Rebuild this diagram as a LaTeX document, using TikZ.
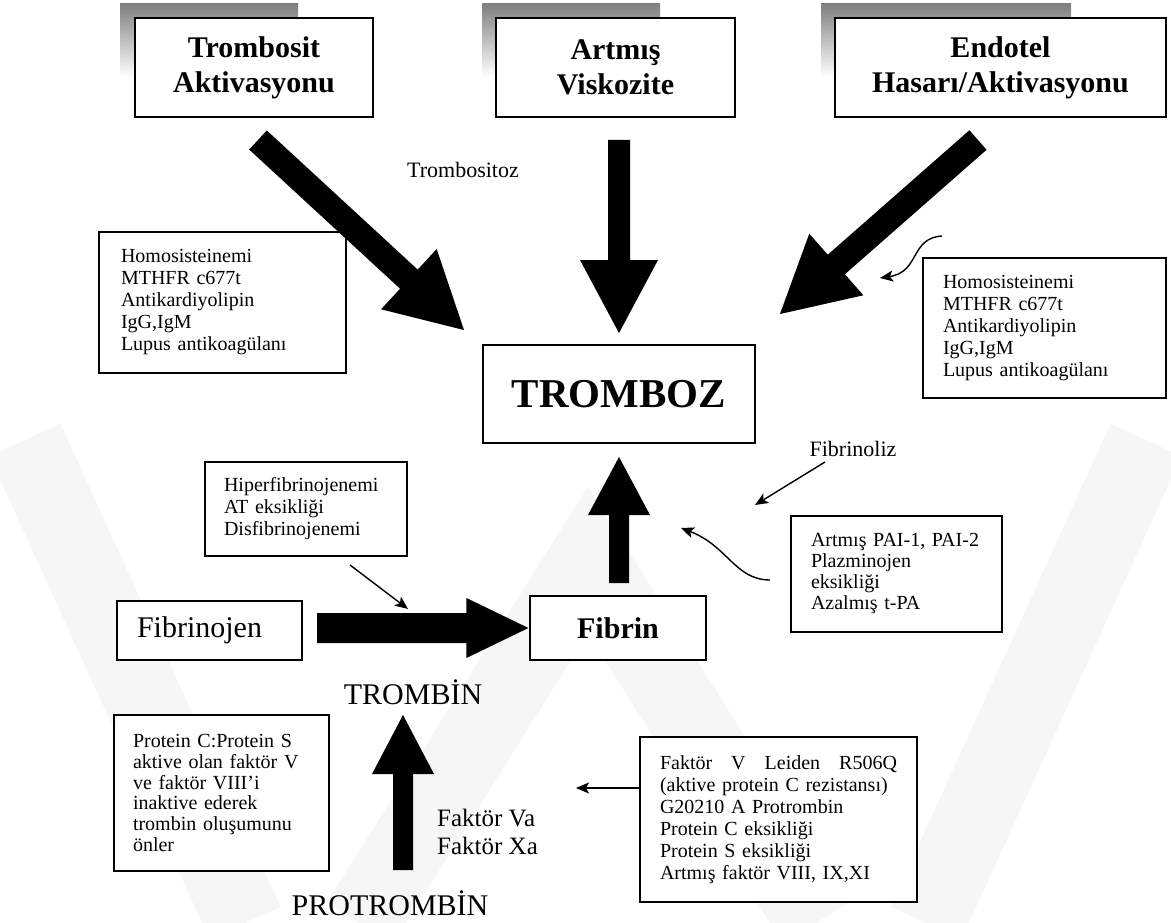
\documentclass[tikz,border=0pt]{standalone}
\usepackage{fontspec}
\setmainfont{Liberation Serif}
\usetikzlibrary{calc,arrows.meta}

\definecolor{shade}{gray}{0.76}
\definecolor{wmark}{gray}{0.965}

% thick block arrow: tail, tip, shaft half width, head half width, head length
\newcommand\blockarrow[5]{%
  \coordinate (ba-b) at ($(#2)!#5!(#1)$);
  \fill[black] ($(#1)!#3!90:(#2)$) -- ($(ba-b)!#3!-90:(#1)$)
    -- ($(ba-b)!#4!-90:(#1)$) -- (#2) -- ($(ba-b)!#4!90:(#1)$)
    -- ($(ba-b)!#3!90:(#1)$) -- ($(#1)!#3!-90:(#2)$) -- cycle;
}

\tikzset{
  box/.style={draw, line width=1.5pt, fill=white, inner sep=0pt},
  titlebox/.style={box, align=center, font=\bfseries\fontsize{30}{35}\selectfont},
  listbox/.style={box, align=left, font=\fontsize{20}{22}\selectfont},
  tag/.style={inner sep=0pt, font=\fontsize{22}{26}\selectfont},
  bigtag/.style={inner sep=0pt, font=\fontsize{30}{34}\selectfont},
  thin/.style={line width=1.4pt, -{Stealth[length=13pt,width=11pt,inset=3pt]}},
}

\begin{document}
\begin{tikzpicture}[x=1pt,y=-1pt]
\useasboundingbox (0,0) rectangle (1171,923);

% faint background emblem
\begin{scope}[wmark, line width=78pt]
  \draw (25,440) -- (245,923);
  \draw (1146,440) -- (926,923);
  \draw[line join=miter] (360,923) -- (588,560) -- (816,923);
\end{scope}

% grey shadows behind the three cause boxes
\fill[shade] (120,4) rectangle (298,77);
\fill[shade] (482,4) rectangle (660,77);
\fill[shade] (821,4) rectangle (1071,77);

% cause boxes
\node[titlebox, minimum width=238pt, minimum height=99pt] (trombosit) at (254,67.5) {Trombosit\\Aktivasyonu};
\node[titlebox, minimum width=239pt, minimum height=99pt] (viskozite) at (615.5,67.5) {Artmış\\Viskozite};
\node[titlebox, minimum width=331pt, minimum height=99pt] (endotel) at (1000.5,67.5) {Endotel\\Hasarı/Aktivasyonu};

% central box
\node[box, minimum width=272pt, minimum height=98pt, font=\bfseries\fontsize{41}{45}\selectfont] (tromboz) at (619,394) {TROMBOZ};

% risk factor boxes
\node[listbox, text width=203pt, inner xsep=22pt, minimum height=141pt] (riskL) at (222.5,302.5)
  {Homosisteinemi\\MTHFR c677t\\Antikardiyolipin\\IgG,IgM\\Lupus antikoagülanı};
\node[listbox, text width=203pt, inner xsep=20pt, minimum height=140pt] (riskR) at (1044.5,328)
  {Homosisteinemi\\MTHFR c677t\\Antikardiyolipin\\IgG,IgM\\Lupus antikoagülanı};
\node[listbox, text width=164pt, inner xsep=19pt, minimum height=94pt] (hiper) at (306,509)
  {Hiperfibrinojenemi\\AT eksikliği\\Disfibrinojenemi};
\node[listbox, text width=171pt, inner xsep=20pt, minimum height=116pt, font=\fontsize{20}{21}\selectfont] (pai) at (896.5,574)
  {Artmış PAI-1, PAI-2\\Plazminojen\\eksikliği\\Azalmış t-PA};
\node[listbox, text width=177pt, inner xsep=19pt, minimum height=156pt, font=\fontsize{20}{20.7}\selectfont] (protC) at (221.5,793)
  {Protein C:Protein S\\aktive olan faktör V\\ve faktör VIII’i\\inaktive ederek\\trombin oluşumunu\\önler};
\node[listbox, text width=237pt, inner xsep=20pt, minimum height=165pt] (leiden) at (778.5,819.5)
  {\hbox to 237pt{Faktör\hfill V\hfill Leiden\hfill R506Q}\\(aktive protein C rezistansı)\\G20210 A Protrombin\\Protein C eksikliği\\Protein S eksikliği\\Artmış faktör VIII, IX,XI};

% coagulation boxes
\node[box, minimum width=185pt, minimum height=59pt, text width=145pt, inner xsep=20pt, align=left, font=\fontsize{30}{34}\selectfont] (fibrinojen) at (209.5,630.5) {Fibrinojen};
\node[box, minimum width=176pt, minimum height=64pt, font=\bfseries\fontsize{30}{34}\selectfont] (fibrin) at (618,628) {Fibrin};

% free labels
\node[tag] (trombositoz) at (463,170) {Trombositoz};
\node[tag] (fibrinoliz) at (853,449) {Fibrinoliz};
\node[bigtag] (trombin) at (413,692) {TROMBİN};
\node[bigtag] (protrombin) at (390,903) {PROTROMBİN};
\node[inner sep=0pt, anchor=west, align=left, font=\fontsize{25}{28}\selectfont] (faktor) at (437,831.5) {Faktör Va\\Faktör Xa};

% block arrow end points
\coordinate (a1t) at (258,140);   \coordinate (a1h) at (464,330);
\coordinate (a2t) at (619,140);   \coordinate (a2h) at (619,333);
\coordinate (a3t) at (978,140);   \coordinate (a3h) at (780,314);
\coordinate (a4t) at (317,628);   \coordinate (a4h) at ([xshift=-0.8pt]fibrin.west);
\coordinate (a5t) at (619,583);   \coordinate (a5h) at (619,457);
\coordinate (a6t) at (403,870);   \coordinate (a6h) at (403,715);

\blockarrow{a1t}{a1h}{13pt}{41pt}{75pt}
\blockarrow{a2t}{a2h}{11pt}{39pt}{73pt}
\blockarrow{a3t}{a3h}{13pt}{41pt}{75pt}
\blockarrow{a4t}{a4h}{15pt}{30pt}{62pt}
\blockarrow{a5t}{a5h}{10pt}{31pt}{58pt}
\blockarrow{a6t}{a6h}{10pt}{31pt}{59pt}

% thin pointer arrows
\coordinate (p1s) at (350,565);  \coordinate (p1e) at (408,609);
\coordinate (p2s) at (825,462);  \coordinate (p2e) at (755,505);
\coordinate (p3s) at (942,236);  \coordinate (p3e) at (880,278);
\coordinate (p4s) at (770,580);  \coordinate (p4e) at (681,528);
\coordinate (p5e) at (576,788);

\draw[thin] (p1s) -- (p1e);
\draw[thin] (p2s) -- (p2e);
\draw[thin] (p3s) .. controls (910,238) and (920,272) .. (p3e);
\draw[thin] (p4s) .. controls (735,580) and (728,546) .. (p4e);
\draw[thin] (leiden.west |- 0,788) -- (p5e);
\end{tikzpicture}
\end{document}
